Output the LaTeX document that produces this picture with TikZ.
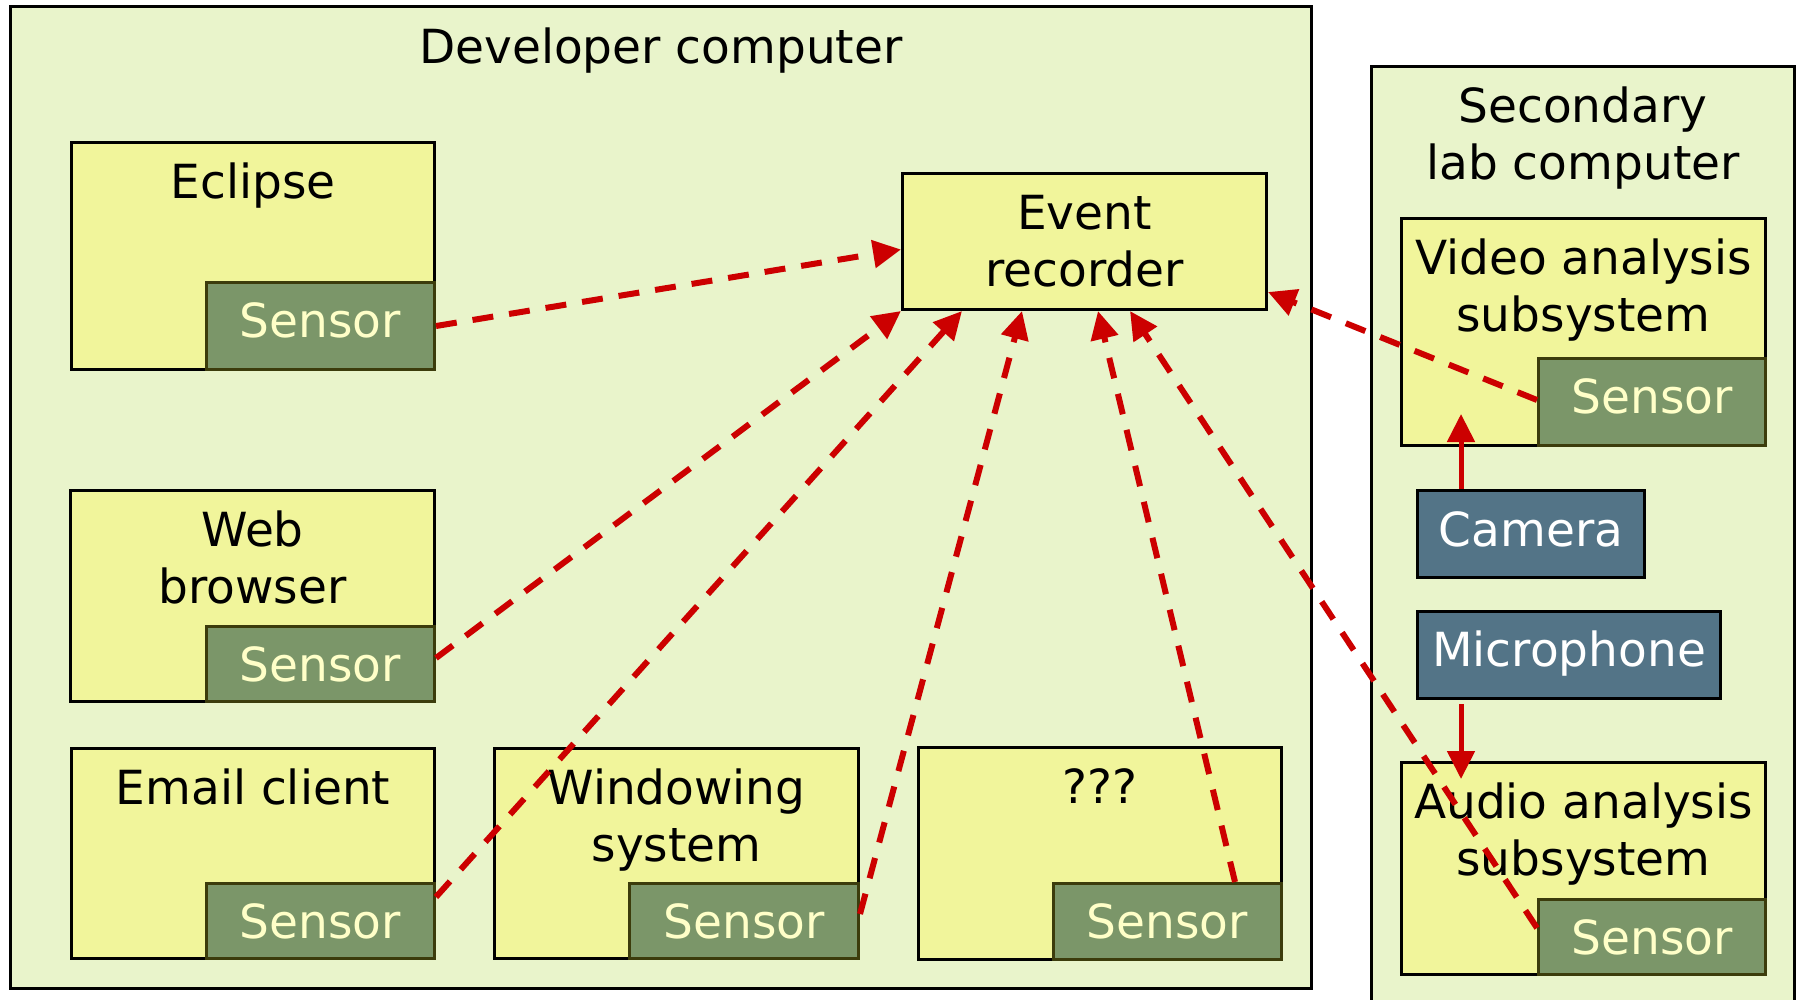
\documentclass[tikz,border=0pt]{standalone}
\usepackage{fontspec}
\setmainfont{DejaVu Sans}
\usetikzlibrary{arrows.meta,calc}

\definecolor{pcbg}{HTML}{E9F4CB}
\definecolor{appfill}{HTML}{F1F59B}
\definecolor{sensfill}{HTML}{7B9669}
\definecolor{sensedge}{HTML}{3C3C0C}
\definecolor{senstext}{HTML}{FFFFC8}
\definecolor{devfill}{HTML}{537487}
\definecolor{linkred}{HTML}{CC0000}

% centred text block whose reference point is the first line's baseline
\newcommand\twoline[2]{\begin{tabular}[t]{@{}c@{}}#1\\#2\end{tabular}}

\begin{document}
\begin{tikzpicture}[x=1pt,y=-1pt,
  every node/.style={font=\fontsize{47}{57}\selectfont},
  box/.style={anchor=north west, inner sep=0pt, line width=3pt, draw=black},
  host/.style={box, fill=pcbg},
  app/.style={box, fill=appfill, text height=56pt},
  sensor/.style={box, draw=sensedge, fill=sensfill, text=senstext, text height=55pt},
  device/.style={box, fill=devfill, text=white, text height=56pt},
  feed/.style={linkred, line width=6pt, dash pattern=on 21pt off 16pt,
    -{Triangle[length=28pt,width=27pt]}},
  wire/.style={linkred, line width=5pt, -{Triangle[length=28pt,width=27pt]}},
]
\useasboundingbox (0,0) rectangle (1798,1000);
\fill[white] (0,0) rectangle (1798,1000);

% the two machines
\node[host, minimum width=1301pt, minimum height=982pt, text height=57pt, text depth=925pt]
  (dev) at (9,5) {Developer computer};
\node[host, minimum width=423pt, minimum height=940pt, text height=56pt, text depth=884pt]
  (sec) at (1370,65) {\twoline{Secondary}{lab computer}};

% applications on the developer computer, each with its sensor
\node[app, minimum width=363pt, minimum height=227pt, text depth=171pt] (eclipse) at (70,141) {Eclipse};
\node[sensor, minimum width=228pt, minimum height=87pt, text depth=32pt] (eclipseS) at (205,281) {Sensor};

\node[app, minimum width=364pt, minimum height=211pt, text depth=155pt] (web) at (69,489) {\twoline{Web}{browser}};
\node[sensor, minimum width=228pt, minimum height=75pt, text depth=20pt] (webS) at (205,625) {Sensor};

\node[app, minimum width=363pt, minimum height=210pt, text depth=154pt] (email) at (70,747) {Email client};
\node[sensor, minimum width=228pt, minimum height=75pt, text depth=20pt] (emailS) at (205,882) {Sensor};

\node[app, minimum width=364pt, minimum height=210pt, text depth=154pt] (win) at (493,747) {\twoline{Windowing}{system}};
\node[sensor, minimum width=229pt, minimum height=75pt, text depth=20pt] (winS) at (628,882) {Sensor};

\node[app, minimum width=363pt, minimum height=212pt, text depth=156pt] (unk) at (917,746) {???};
\node[sensor, minimum width=228pt, minimum height=76pt, text depth=21pt] (unkS) at (1052,882) {Sensor};

\node[app, minimum width=364pt, minimum height=136pt, text depth=80pt] (event) at (901,172) {\twoline{Event}{recorder}};

% secondary lab computer
\node[app, minimum width=364pt, minimum height=227pt, text depth=171pt] (video) at (1400,217) {\twoline{Video analysis}{subsystem}};
\node[sensor, minimum width=227pt, minimum height=87pt, text depth=32pt] (videoS) at (1537,357) {Sensor};

\node[device, minimum width=227pt, minimum height=87pt, text depth=31pt] (cam) at (1416,489) {Camera};
\node[device, minimum width=303pt, minimum height=87pt, text depth=32pt, text height=55pt] (mic) at (1416,610) {Microphone};

\node[app, minimum width=364pt, minimum height=212pt, text depth=156pt] (audio) at (1400,761) {\twoline{Audio analysis}{subsystem}};
\node[sensor, minimum width=227pt, minimum height=75pt, text depth=20pt] (audioS) at (1537,898) {Sensor};

% device inputs
\draw[wire] ($(cam.north west)+(45,0)$) -- ($(cam.north west)+(45,-75)$);
\draw[wire] ($(mic.south west)+(45,4)$) -- ($(mic.south west)+(45,79)$);

% sensor events sent to the recorder
\draw[feed] (eclipseS.east) -- ($(event.west)+(0,8)$);
\draw[feed] ($(webS.east)+(0,-6)$) -- (event.south west);
\draw[feed] ($(emailS.north east)+(0,15)$) -- ($(event.south west)+(61,0)$);
\draw[feed] ($(winS.north east)+(0,32)$) -- ($(event.south west)+(121,0)$);
\draw[feed] ($(unkS.north west)+(183,0)$) -- ($(event.south west)+(197,0)$);
\draw[feed] ($(audioS.north west)+(0,30)$) -- ($(event.south west)+(229,0)$);
\draw[feed] ($(videoS.north west)+(0,43)$) -- ($(event.north east)+(0,120)$);
\end{tikzpicture}
\end{document}
